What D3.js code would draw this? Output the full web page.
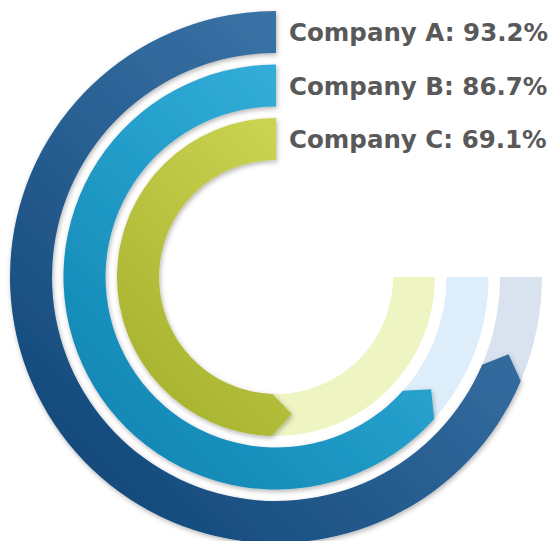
<!DOCTYPE html>
<html>
<head>
<meta charset="utf-8">
<script src="https://cdn.jsdelivr.net/npm/d3@7"></script>
<style>
  html, body { margin: 0; padding: 0; background: #fff; }
  svg { display: block; }
</style>
</head>
<body>
<div class="chart-container"></div>
<script>
// data
var companies = ["Company A", "Company B", "Company C"];
var shares = [93.2, 86.7, 69.1];

var width = 552, height = 541;
var cx = 276, cy = 277;
var arrowLen = 20;

var darkColors = ["#0c4172", "#0a80ad", "#a1ad29"];
var lightColors = ["#4a83b8", "#40bde8", "#dae160"];
var trackColors = ["#d9e3ef", "#ddeefa", "#eff4c3"];

// radial position of each ring
var ring = d3.scaleBand()
    .domain(companies)
    .range([266, 117])
    .paddingInner(0.215);

// percent -> angle (clockwise from 12 o'clock), gauge runs counter-clockwise over 270deg
var angle = d3.scaleLinear().domain([0, 100]).range([2 * Math.PI, Math.PI / 2]);

var svg = d3.select(".chart-container").append("svg")
    .attr("width", width)
    .attr("height", height);

var defs = svg.append("defs");
var shadow = defs.append("filter")
    .attr("id", "shadow")
    .attr("x", "-10%").attr("y", "-10%")
    .attr("width", "120%").attr("height", "120%");
shadow.append("feDropShadow")
    .attr("dx", 1).attr("dy", 2)
    .attr("stdDeviation", 2.5)
    .attr("flood-color", "#000")
    .attr("flood-opacity", 0.3);

companies.forEach(function(c, i) {
    var rOut = ring(c) + ring.bandwidth();
    var g = defs.append("linearGradient")
        .attr("id", "grad" + i)
        .attr("gradientUnits", "userSpaceOnUse")
        .attr("x1", cx - rOut).attr("y1", cy + rOut)
        .attr("x2", cx + rOut).attr("y2", cy - rOut);
    g.append("stop").attr("offset", "0%").attr("stop-color", darkColors[i]);
    g.append("stop").attr("offset", "100%").attr("stop-color", lightColors[i]);
});

var plot = svg.append("g").attr("transform", "translate(" + cx + "," + cy + ")");

// background tracks
var trackArc = d3.arc()
    .innerRadius(function(d) { return ring(d); })
    .outerRadius(function(d) { return ring(d) + ring.bandwidth(); })
    .startAngle(angle(100))
    .endAngle(angle(0));

plot.selectAll("path.track")
    .data(companies)
  .enter().append("path")
    .attr("class", "track")
    .attr("d", trackArc)
    .attr("fill", function(d, i) { return trackColors[i]; });

// value arc with arrow tip
function arrowArc(c, i) {
    var r0 = ring(c), r1 = r0 + ring.bandwidth(), rm = (r0 + r1) / 2;
    var a0 = angle(0), aTip = angle(shares[i]);
    var aEnd = aTip + arrowLen / rm;
    var off = -Math.PI / 2;
    var p = d3.path();
    p.moveTo(r1 * Math.cos(a0 + off), r1 * Math.sin(a0 + off));
    p.arc(0, 0, r1, a0 + off, aEnd + off, true);
    p.lineTo(rm * Math.cos(aTip + off), rm * Math.sin(aTip + off));
    p.lineTo(r0 * Math.cos(aEnd + off), r0 * Math.sin(aEnd + off));
    p.arc(0, 0, r0, aEnd + off, a0 + off, false);
    p.closePath();
    return p.toString();
}

plot.selectAll("path.value")
    .data(companies)
  .enter().append("path")
    .attr("class", "value")
    .attr("d", arrowArc)
    .attr("fill", function(d, i) { return "url(#grad" + i + ")"; })
    .attr("filter", "url(#shadow)");

// labels
svg.selectAll("text.label")
    .data(companies)
  .enter().append("text")
    .attr("class", "label")
    .attr("x", 289)
    .attr("y", function(d) { return cy - ring(d) - ring.bandwidth() / 2 + 9; })
    .attr("font-family", "'DejaVu Sans', Verdana, sans-serif")
    .attr("font-weight", "bold")
    .attr("font-size", "24.5px")
    .attr("fill", "#595959")
    .text(function(d, i) { return d + ": " + shares[i].toFixed(1) + "%"; });
</script>
</body>
</html>
